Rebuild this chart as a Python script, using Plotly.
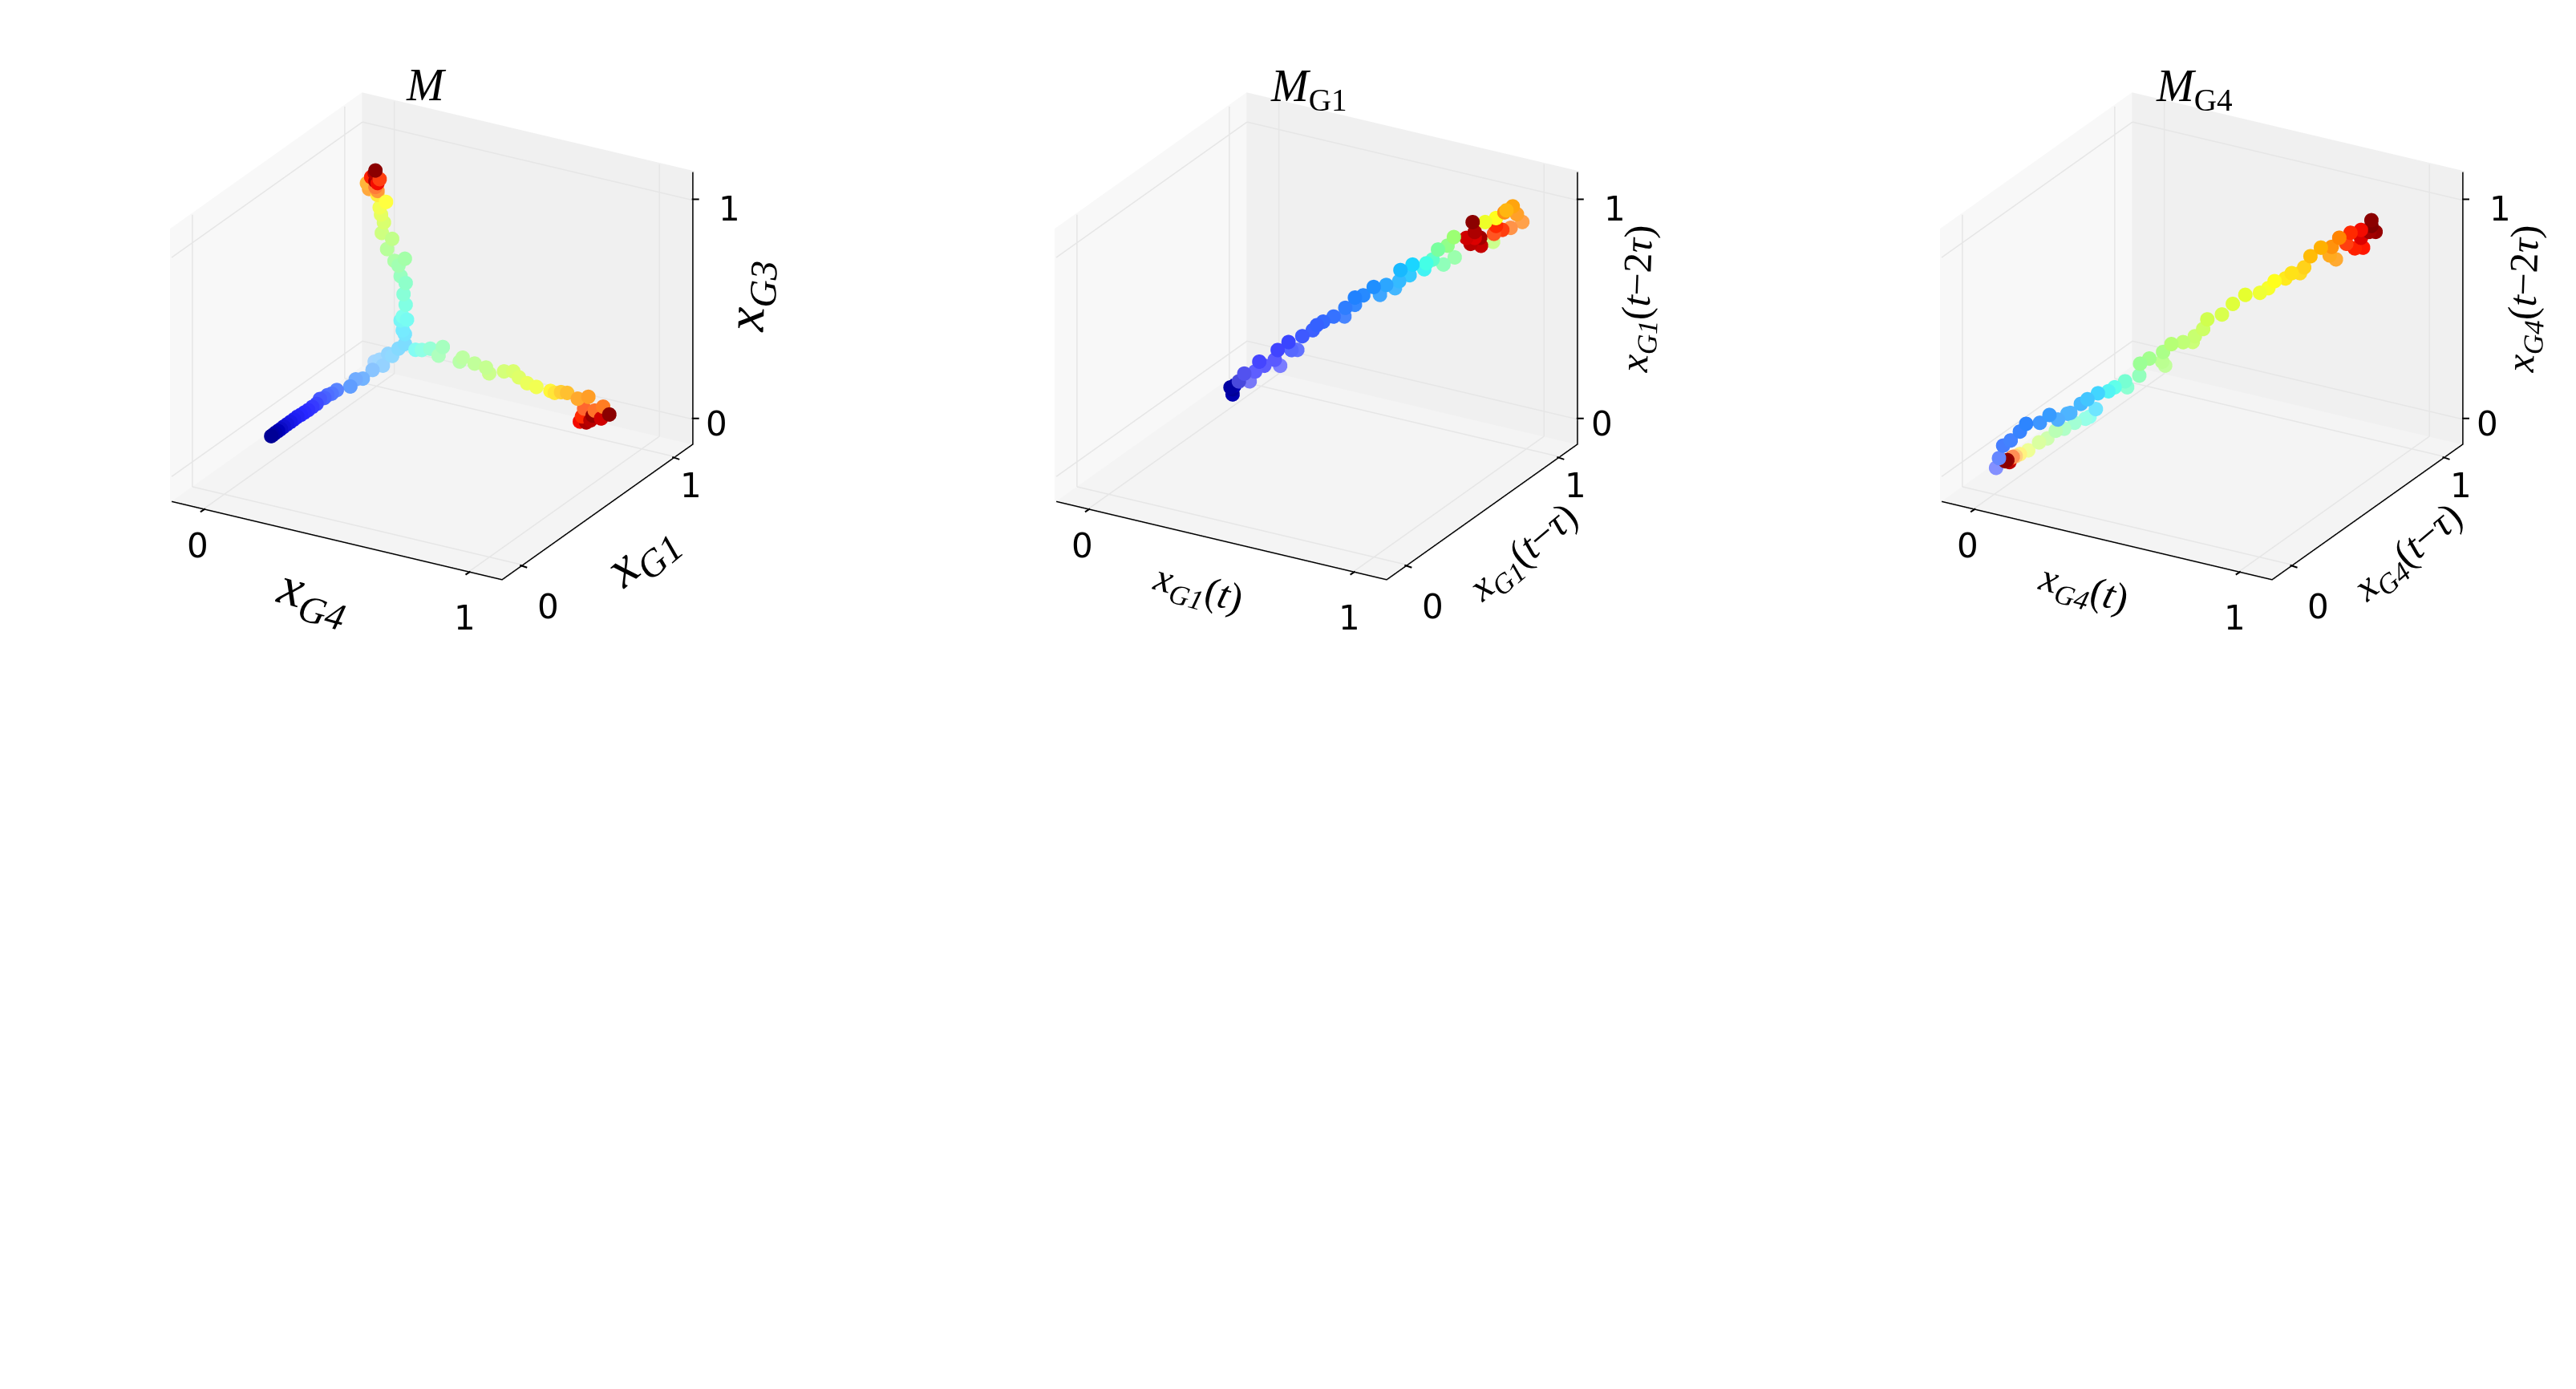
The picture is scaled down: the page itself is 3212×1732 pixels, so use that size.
import numpy as np
import plotly.graph_objects as go

# axis ranges and ticks, same on all three panels
xr = [-0.124, 1.13]
yr = [-0.14, 1.12]
zr = [-0.118, 1.132]
ticks = [0, 1]

# M : x_G4, x_G1, x_G3
x1 = [-.001,-.001,-.002,-.002,-.002,-.003,-.003,-.003,-.003,-.004,-.002,-.001,0,-.001,-.001,-.011,-.003,-.005,.001,.001,.025,.012,.029,.022,-.005,.034,
      .011,.043,.058,.082,.106,
      .146,.170,.202,.249,.233,.313,.324,.369,.412,.424,.480,.515,.536,.567,.602,.655,.671,.695,.718,.758,.798,.782,.854,.822,.774,.877,.766,.806,.814,.846,.790,
      .106,.098,.090,.114,.098,.109,.101,.109,.090,.082,.106,.067,.039,.058,.019,.027,.016,.011,.035,.003,-.037,-.029,.003,-.005,.011,-.021,.003,-.008,-.005,-.005]
y1 = [.309,.320,.338,.356,.374,.395,.417,.439,.461,.486,.505,.527,.550,.579,.607,.646,.661,.685,.703,.736,.783,.841,.858,.934,.995,.981] + [1.0]*66
z1 = [0.0]*26 + [.011,.047,.042,.082,.110,
      .095,.101,.116,.137,.093,.089,.110,.096,.090,.067,.092,.102,.081,.063,.056,.053,.049,.059,.062,.047,.067,.009,.038,.011,-.029,.009,-.055,-.038,-.014,-.018,-.052,
      .155,.170,.213,.223,.233,.290,.336,.389,.415,.461,.499,.478,.524,.576,.592,.642,.675,.706,.738,.761,.803,.779,.779,.795,.835,.835,.815,.857,.822,.870]
c1 = [.02,.03,.04,.05,.06,.07,.08,.09,.10,.10,.11,.12,.12,.13,.14,.15,.16,.17,.18,.19,.22,.23,.24,.25,.26,.27,
      .27,.28,.29,.30,.31,
      .37,.40,.43,.47,.48,.51,.52,.53,.54,.55,.57,.58,.59,.61,.62,.65,.67,.70,.72,.75,.76,.84,.80,.82,.87,.99,.90,.95,.98,.93,.96,
      .33,.34,.36,.37,.38,.40,.42,.44,.46,.48,.49,.50,.52,.54,.56,.58,.60,.62,.64,.66,.74,.76,.78,.82,.86,.88,.90,.95,.97,.99]

# M_G1 : x_G1(t), x_G1(t-tau), x_G1(t-2tau)
x2 = [.296,.301,.296,.291,.311,.324,.337,.350,.360,.372,.397,.410,.404,.430,.451,.437,.463,.488,.498,.513,.538,.564,.566,.589,.589,.609,.634,.649,.664,.685,.695,.698,.720,.727,.755,.760,.775,.801,.788,.828,.811,.826,.920,.901,.927,.952,.967,.977,.990,.947,.962,.922,.927,.942,.871,.876,.856,.891,.866,.876,.889]
y2 = list(x2)
z2 = [.305,.322,.282,.315,.338,.371,.333,.375,.418,.397,.419,.389,.462,.493,.453,.455,.513,.535,.556,.569,.587,.582,.621,.630,.663,.669,.702,.663,.705,.686,.716,.766,.738,.785,.758,.784,.798,.770,.841,.797,.854,.890,.849,.943,.956,.986,1.001,.963,.925,.978,.904,.885,.920,.899,.949,.876,.880,.837,.851,.903,.874]
c2 = [.02,.05,.04,.03,.07,.09,.10,.11,.115,.12,.125,.13,.13,.14,.15,.15,.16,.17,.18,.19,.20,.21,.22,.23,.235,.24,.25,.26,.27,.28,.29,.30,.31,.33,.36,.38,.42,.46,.47,.48,.50,.52,.55,.62,.64,.72,.74,.76,.78,.77,.80,.85,.87,.86,.99,.92,.93,.94,.95,.96,.97]

# M_G4 : x_G4(t), x_G4(t-tau), x_G4(t-2tau)
x3 = [.004,.011,.021,.039,.061,.076,.109,.132,.152,.175,.182,.207,.223,.248,.243,.273,.288,.313,.318,.347,.349,.371,.404,.402,.409,.424,.452,.475,.480,.500,.510,.545,.571,.601,.636,.656,.671,.697,.712,.732,.742,.757,.782,.803,.818,.808,.826,.843,.853,.863,.883,.878,.878,.903,.898,.913,.903,
      .228,.218,.192,.167,.147,.127,.107,.081,.061,.051,.044,.041,.036,.031,.026]
y3 = list(x3)
z3 = [.007,.050,.105,.125,.161,.193,.191,.222,.197,.219,.221,.257,.275,.297,.226,.301,.316,.338,.310,.357,.411,.430,.453,.409,.390,.485,.488,.484,.509,.538,.580,.595,.638,.673,.675,.692,.721,.728,.749,.745,.769,.817,.851,.811,.790,.849,.887,.856,.904,.831,.830,.912,.876,.951,.899,.896,.925,
      .194,.187,.174,.152,.147,.116,.102,.071,.058,.051,.049,.044,.027,.037,.033]
c3 = [.15,.18,.20,.21,.22,.23,.24,.25,.26,.27,.27,.28,.30,.32,.33,.36,.38,.42,.43,.46,.50,.51,.52,.53,.53,.54,.55,.56,.56,.57,.58,.59,.60,.61,.62,.63,.64,.66,.67,.68,.69,.71,.72,.74,.75,.76,.77,.86,.87,.88,.89,.90,.92,.99,.97,.98,1.0,
      .38,.40,.44,.47,.50,.53,.56,.60,.66,.74,.82,.88,.95,.98,.99]

titles = ['<i>M</i>', '<i>M</i><sub>G1</sub>', '<i>M</i><sub>G4</sub>']
xlab = ['<i>x</i><sub><i>G4</i></sub>', '<i>x</i><sub><i>G1</i></sub>(<i>t</i>)', '<i>x</i><sub><i>G4</i></sub>(<i>t</i>)']
ylab = ['<i>x</i><sub><i>G1</i></sub>', '<i>x</i><sub><i>G1</i></sub>(<i>t</i>\u2212<i>\u03c4</i>)', '<i>x</i><sub><i>G4</i></sub>(<i>t</i>\u2212<i>\u03c4</i>)']
zlab = ['<i>x</i><sub><i>G3</i></sub>', '<i>x</i><sub><i>G1</i></sub>(<i>t</i>\u22122<i>\u03c4</i>)', '<i>x</i><sub><i>G4</i></sub>(<i>t</i>\u22122<i>\u03c4</i>)']

W, H = 3212, 1732
SH = 824
k = 1.162
centers = [531.0, 1634.1, 2738.3]
title_pos = [(523.5,98),(1623.5,102.7),(2727.6,102.7)]
xlab_pos = [(382.6,735),(1485,728),(2589,728)]
ylab_pos = [(791,684),(1892,682.6),(2995,682.6)]
zlab_pos = [(926,362),(2036,365),(3141,365)]
lab_size = [68,50,50]
alpha_min = [0.35,0.45,0.45]

e = np.radians(24.2)
eyedir = np.array([np.cos(e)*0.5, -np.cos(e)*0.866, np.sin(e)])
r = 2.0

# matplotlib jet
jet_p = [0,.11,.125,.34,.35,.375,.64,.65,.66,.89,.91,1]
jet_r = [0,0,0,0,0,.1,1,1,1,1,.91,.5]
jet_g = [0,0,0,.86,.9,1,1,.96,.91,.09,0,0]
jet_b = [.5,1,1,1,.97,.9,.03,0,0,0,0,0]

def shade(c, x, y, z, amin):
    # depth fade towards white, nearer points stronger
    dep = np.array([x, y, z]).T @ eyedir
    t = (dep-dep.min())/(dep.max()-dep.min())
    al = amin+(1-amin)*t**0.8
    # the two ends are stacked clusters, they read as solid
    cc = np.array(c)
    al = np.maximum(al, np.clip((cc-0.72)/0.15, 0, 1))
    al = np.maximum(al, np.clip((0.12-cc)/0.07, 0, 1))
    out = []
    for cv, q in zip(c, al):
        v = [np.interp(cv, jet_p, s)*255 for s in (jet_r, jet_g, jet_b)]
        out.append('rgb(%d,%d,%d)' % tuple(int(n*q+255*(1-q)) for n in v))
    return out

# lines sit just inside the range or the scene clips them
d = 0.004
x0, x9, y0, y9, z0, z9 = xr[0]+d, xr[1]-d, yr[0]+d, yr[1]-d, zr[0]+d, zr[1]-d
gx, gy, gz = [], [], []
for t in ticks:
    gx += [t, t, t, None, t, t, None]
    gy += [y0, y9, y9, None, y9, y9, None]
    gz += [z0, z0, z0, None, z0, z9, None]
    gx += [x0, x9, None, x0, x0, None]
    gy += [t, t, None, t, t, None]
    gz += [z0, z0, None, z0, z9, None]
    gx += [x0, x0, None, x0, x9, None]
    gy += [y0, y9, None, y9, y9, None]
    gz += [t, t, None, t, t, None]

fig = go.Figure()
ann = []
for i, (x, y, z, c) in enumerate([(x1,y1,z1,c1),(x2,y2,z2,c2),(x3,y3,z3,c3)]):
    sid = 'scene' if i == 0 else 'scene%d' % (i+1)
    fig.add_trace(go.Scatter3d(x=gx, y=gy, z=gz, mode='lines', connectgaps=False,
        line=dict(color='#e6e6e6', width=3), scene=sid, showlegend=False, hoverinfo='skip'))
    fig.add_trace(go.Scatter3d(x=[x0,x9,x9,x9], y=[y0,y0,y9,y9], z=[z0,z0,z0,z9], mode='lines',
        line=dict(color='black', width=3), scene=sid, showlegend=False, hoverinfo='skip'))
    fig.add_trace(go.Scatter3d(x=x, y=y, z=z, mode='markers',
        marker=dict(size=10.5, color=shade(c,x,y,z,alpha_min[i]), line=dict(width=0)), scene=sid, showlegend=False))
    ax = dict(tickvals=ticks, tickmode='array', showgrid=False,
              zeroline=False, showline=False, ticks='', showticklabels=False, title=dict(text=''), showspikes=False)
    sa = []
    tf = dict(family='DejaVu Sans', size=42, color='black')
    for t, sh in zip(ticks, [(-7,44),(-4,56)]):
        sa.append(dict(x=t, y=yr[0], z=zr[0], text=str(t), showarrow=False, xshift=sh[0], yshift=-sh[1], font=tf))
        sa.append(dict(x=t, y=yr[0]+0.015, z=zr[0], text=' ', showarrow=True, arrowhead=0, arrowwidth=2, arrowcolor='black', ax=-9, ay=6, standoff=0))
    for t, sh in zip(ticks, [(30,51),(18,34)]):
        sa.append(dict(x=xr[1], y=t, z=zr[0], text=str(t), showarrow=False, xshift=sh[0], yshift=-sh[1], font=tf))
        sa.append(dict(x=xr[1]-0.015, y=t, z=zr[0], text=' ', showarrow=True, arrowhead=0, arrowwidth=2, arrowcolor='black', ax=12, ay=4, standoff=0))
    for t, sh in zip(ticks, [(28,6),(44,11)]):
        sa.append(dict(x=xr[1], y=yr[1], z=t, text=str(t), showarrow=False, xshift=sh[0], yshift=-sh[1], font=tf))
        sa.append(dict(x=xr[1]-0.01, y=yr[1], z=t, text=' ', showarrow=True, arrowhead=0, arrowwidth=2, arrowcolor='black', ax=12, ay=0, standoff=0))
    fig.update_layout(**{sid: dict(
        domain=dict(x=[(centers[i]-460)/W,(centers[i]+460)/W], y=[1-SH/H,1]),
        xaxis=dict(ax, range=xr, showbackground=True, backgroundcolor='#f8f8f8'),
        yaxis=dict(ax, range=yr, showbackground=True, backgroundcolor='#f0f0f0'),
        zaxis=dict(ax, range=zr, showbackground=True, backgroundcolor='#f4f4f4'),
        aspectmode='manual', aspectratio=dict(x=k,y=k,z=0.782*k),
        camera=dict(eye=dict(x=eyedir[0]*r,y=eyedir[1]*r,z=eyedir[2]*r), up=dict(x=0,y=0,z=1), center=dict(x=0,y=0,z=0), projection=dict(type='orthographic')),
        annotations=sa,
    )})
    f = 'Liberation Serif'
    for txt, pos, sz, ang in [(titles[i], title_pos[i], 56, 0), (xlab[i], xlab_pos[i], lab_size[i], 15), (ylab[i], ylab_pos[i], lab_size[i], -40), (zlab[i], zlab_pos[i], lab_size[i], -88)]:
        ann.append(dict(text=txt, x=pos[0]/W, y=1-pos[1]/H, xref='paper', yref='paper', xanchor='center', yanchor='middle', showarrow=False, textangle=ang, font=dict(family=f, size=sz, color='black')))
fig.update_layout(width=W, height=H, margin=dict(l=0,r=0,t=0,b=0), paper_bgcolor='white', annotations=ann)
fig.write_html("out.html")
